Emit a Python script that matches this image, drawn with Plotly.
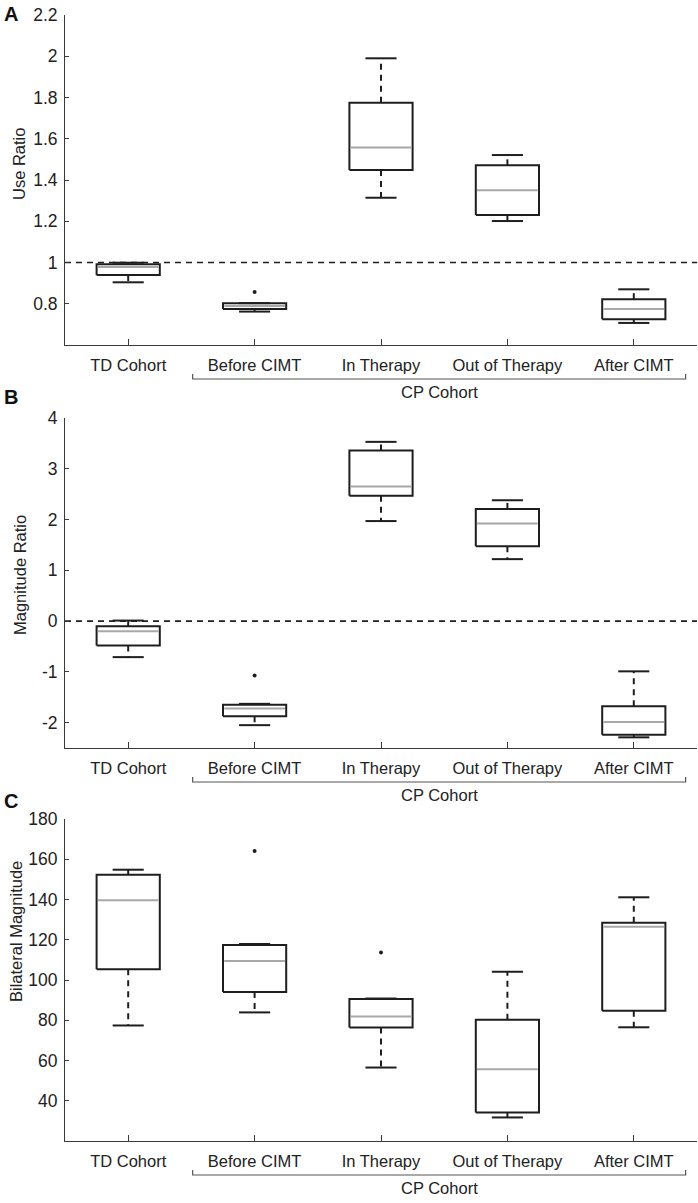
import plotly.graph_objects as go

# ---------------------------------------------------------------
# data
# ---------------------------------------------------------------
categories = ["TD Cohort", "Before CIMT", "In Therapy", "Out of Therapy", "After CIMT"]

use_lower = [0.904, 0.762, 1.314, 1.201, 0.707]
use_q1 = [0.939, 0.775, 1.448, 1.230, 0.725]
use_median = [0.978, 0.789, 1.558, 1.350, 0.775]
use_q3 = [0.991, 0.802, 1.775, 1.471, 0.822]
use_upper = [0.999, 0.803, 1.990, 1.521, 0.870]
use_outliers = [[], [0.857], [], [], []]

mag_lower = [-0.71, -2.05, 1.97, 1.22, -2.29]
mag_q1 = [-0.48, -1.875, 2.47, 1.475, -2.24]
mag_median = [-0.20, -1.72, 2.65, 1.92, -1.99]
mag_q3 = [-0.10, -1.65, 3.36, 2.21, -1.68]
mag_upper = [0.01, -1.63, 3.53, 2.38, -0.99]
mag_outliers = [[], [-1.07], [], [], []]

bil_lower = [77.4, 83.9, 56.5, 31.7, 76.5]
bil_q1 = [105.4, 94.0, 76.4, 34.2, 84.7]
bil_median = [139.6, 109.4, 81.9, 55.6, 126.4]
bil_q3 = [152.3, 117.4, 90.5, 80.2, 128.4]
bil_upper = [154.8, 117.9, 90.8, 104.1, 141.1]
bil_outliers = [[], [164.1], [113.7], [], []]

use_ticks = [0.8, 1, 1.2, 1.4, 1.6, 1.8, 2, 2.2]
mag_ticks = [-2, -1, 0, 1, 2, 3, 4]
bil_ticks = [40, 60, 80, 100, 120, 140, 160, 180]

# ---------------------------------------------------------------
# layout helpers
# ---------------------------------------------------------------
W, H = 698, 1203
FONT = "Liberation Sans Narrow, Arial Narrow, Liberation Sans, Arial, sans-serif"
FS = 16.5
BOX_HALF = 0.25
CAP_HALF = 0.123
BLACK = "#1e1e1e"
AXIS = "#3a3a3a"
MED = "#a8a8a8"


def py(p):
    """pixel row -> paper y"""
    return 1 - p / H


# (top px, bottom px) of each plot area
panels = [
    dict(top=15, bottom=345, lower=use_lower, q1=use_q1, med=use_median, q3=use_q3,
         upper=use_upper, out=use_outliers, rng=[0.6, 2.2], ticks=use_ticks,
         ref=1, title="Use Ratio", title_xy=(19, 164), letter="A", letter_y=14),
    dict(top=418, bottom=748, lower=mag_lower, q1=mag_q1, med=mag_median, q3=mag_q3,
         upper=mag_upper, out=mag_outliers, rng=[-2.5, 4], ticks=mag_ticks,
         ref=0, title="Magnitude Ratio", title_xy=(20, 575), letter="B", letter_y=397),
    dict(top=819, bottom=1141, lower=bil_lower, q1=bil_q1, med=bil_median, q3=bil_q3,
         upper=bil_upper, out=bil_outliers, rng=[20, 180], ticks=bil_ticks,
         ref=None, title="Bilateral Magnitude", title_xy=(16, 932), letter="C", letter_y=801),
]

fig = go.Figure()
xpos = list(range(1, len(categories) + 1))

for k, p in enumerate(panels):
    n = "" if k == 0 else str(k + 1)
    xa, ya = "x" + n, "y" + n

    # boxes
    bx, by = [], []
    for i, x in enumerate(xpos):
        bx += [x - BOX_HALF, x + BOX_HALF, x + BOX_HALF, x - BOX_HALF, x - BOX_HALF, None]
        by += [p["q1"][i], p["q1"][i], p["q3"][i], p["q3"][i], p["q1"][i], None]
    # whiskers (dashed)
    wx, wy = [], []
    for i, x in enumerate(xpos):
        wx += [x, x, None, x, x, None]
        wy += [p["q3"][i], p["upper"][i], None, p["q1"][i], p["lower"][i], None]
    # caps
    cx, cy = [], []
    for i, x in enumerate(xpos):
        cx += [x - CAP_HALF, x + CAP_HALF, None, x - CAP_HALF, x + CAP_HALF, None]
        cy += [p["upper"][i], p["upper"][i], None, p["lower"][i], p["lower"][i], None]
    # medians
    mx, my = [], []
    for i, x in enumerate(xpos):
        mx += [x - BOX_HALF + 0.01, x + BOX_HALF - 0.01, None]
        my += [p["med"][i], p["med"][i], None]
    # outliers
    ox, oy = [], []
    for i, x in enumerate(xpos):
        for v in p["out"][i]:
            ox.append(x)
            oy.append(v)

    fig.add_trace(go.Scatter(x=wx, y=wy, mode="lines", xaxis=xa, yaxis=ya,
                             line=dict(color=BLACK, width=2, dash="6px,5px")))
    fig.add_trace(go.Scatter(x=cx, y=cy, mode="lines", xaxis=xa, yaxis=ya,
                             line=dict(color=BLACK, width=2)))
    fig.add_trace(go.Scatter(x=bx, y=by, mode="lines", xaxis=xa, yaxis=ya,
                             line=dict(color=BLACK, width=2)))
    fig.add_trace(go.Scatter(x=mx, y=my, mode="lines", xaxis=xa, yaxis=ya,
                             line=dict(color=MED, width=2)))
    fig.add_trace(go.Scatter(x=ox, y=oy, mode="markers", xaxis=xa, yaxis=ya,
                             marker=dict(color=BLACK, size=4)))

    dom = [py(p["bottom"]), py(p["top"])]
    fig.update_layout(**{
        "xaxis" + n: dict(
            domain=[65 / W, 697 / W], range=[0.5, 5.5], anchor=ya, automargin=False,
            tickvals=xpos, ticktext=categories, ticks="inside", ticklen=6,
            tickcolor=AXIS, showline=True, linecolor=AXIS, linewidth=1,
            showgrid=False, zeroline=False, ticklabelstandoff=5,
            tickfont=dict(family=FONT, size=FS, color="#222"),
        ),
        "yaxis" + n: dict(
            domain=dom, range=p["rng"], anchor=xa, automargin=False,
            tickvals=p["ticks"], ticktext=[f"{t:g}" for t in p["ticks"]],
            ticks="inside", ticklen=4, tickcolor=AXIS,
            showline=True, linecolor=AXIS, linewidth=1, showgrid=False,
            zeroline=False, ticklabelstandoff=3,
            tickfont=dict(family=FONT, size=FS + 1, color="#222"),
        ),
    })

    if p["ref"] is not None:
        fig.add_shape(type="line", xref=xa + " domain", yref=ya, x0=0, x1=1,
                      y0=p["ref"], y1=p["ref"], layer="below",
                      line=dict(color=BLACK, width=1.6, dash="6px,5px"))

    # CP cohort bracket
    yb = p["bottom"] + 34
    fig.add_shape(type="path", xref=xa, yref="paper",
                  path=f"M 1.51,{py(yb - 5)} L 1.51,{py(yb)} L 5.41,{py(yb)} L 5.41,{py(yb - 5)}",
                  line=dict(color="#555", width=1.2))
    fig.add_annotation(x=3.46, y=py(yb + 13), xref=xa, yref="paper", text="CP Cohort",
                       xanchor="center", yanchor="middle", showarrow=False,
                       font=dict(family=FONT, size=FS, color="#222"))

    # y title
    tx, ty = p["title_xy"]
    fig.add_annotation(x=tx / W, y=py(ty), xref="paper", yref="paper", text=p["title"],
                       textangle=-90, xanchor="center", yanchor="middle", showarrow=False,
                       font=dict(family=FONT, size=FS, color="#222"))
    # panel letter
    fig.add_annotation(x=2 / W, y=py(p["letter_y"]), xref="paper", yref="paper",
                       xanchor="left", yanchor="middle", text="<b>" + p["letter"] + "</b>",
                       showarrow=False,
                       font=dict(family="Liberation Sans, Arial, sans-serif", size=20, color="#111"))

fig.update_layout(
    width=W, height=H,
    margin=dict(l=0, r=0, t=0, b=0),
    paper_bgcolor="white", plot_bgcolor="white",
    showlegend=False,
)

# drop the default page margin so the figure fills the window
fig.write_html("out.html", config={"displayModeBar": False},
               post_script="document.body.style.margin = '0';")
